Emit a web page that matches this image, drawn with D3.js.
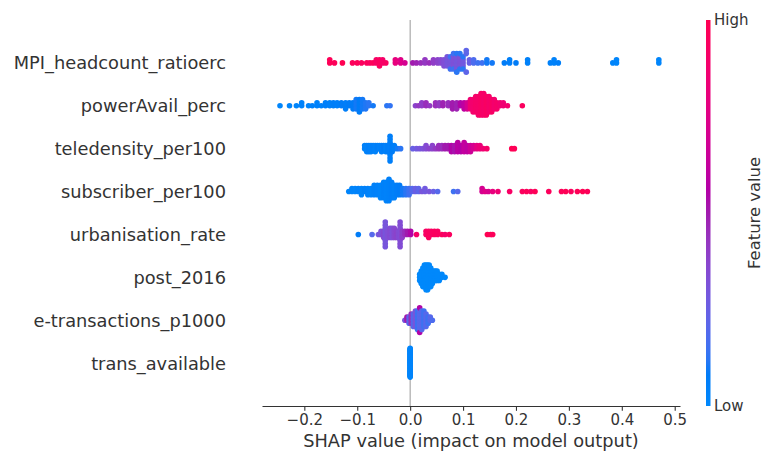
<!DOCTYPE html>
<html><head><meta charset="utf-8">
<script src="https://cdn.jsdelivr.net/npm/d3@7"></script>
<style>
body{margin:0;background:#fff}
svg{display:block}
text{font-family:"DejaVu Sans",sans-serif;fill:#333}
</style>
</head><body>
<svg id="c" width="765" height="456"></svg>
<script>
// ---------- DATA ----------
const features = ["MPI_headcount_ratioerc","powerAvail_perc","teledensity_per100","subscriber_per100",
  "urbanisation_rate","post_2016","e-transactions_p1000","trans_available"];
const xTicks = [-0.2,-0.1,0.0,0.1,0.2,0.3,0.4,0.5];
const colorbarLabels = ["Low","High"];
const xLabel = "SHAP value (impact on model output)";
const colorbarTitle = "Feature value";

// each entry: [SHAP value, number of samples, feature value (0 = low, 1 = high)]
const mpiPoints = [
 [-0.152,2,0.98],[-0.143,1,0.97],[-0.128,1,1.0],[-0.109,1,0.96],[-0.100,1,0.97],[-0.092,1,0.95],
 [-0.082,1,0.96],[-0.076,1,0.94],[-0.070,1,0.97],[-0.064,2,0.92],[-0.058,3,0.95],[-0.052,2,0.9],[-0.046,1,0.93],
 [-0.028,2,0.8],[-0.018,2,0.75],[-0.010,1,0.7],
 [0.005,1,0.5],[0.012,1,0.48],[0.020,1,0.45],[0.028,2,0.42],[0.036,1,0.45],[0.044,2,0.4],[0.052,2,0.38],[0.058,2,0.36],
 [0.064,3,0.33],[0.070,4,0.3],[0.076,3,0.3],[0.076,2,0.15],[0.082,4,0.32],[0.082,2,0.15],[0.088,5,0.3],[0.088,2,0.12],
 [0.094,4,0.32],[0.094,2,0.12],[0.100,3,0.28],[0.100,2,0.12],[0.106,3,0.22],[0.112,2,0.25],
 [0.120,2,0.18],[0.128,1,0.15],[0.136,1,0.15],[0.145,2,0.1],[0.155,1,0.1],
 [0.178,1,0.08],[0.188,2,0.06],[0.200,1,0.08],[0.222,2,0.05],
 [0.265,1,0.05],[0.272,2,0.04],[0.280,1,0.06],
 [0.383,1,0.03],[0.390,2,0.02],[0.470,2,0.02]
];
const powerPoints = [
 [-0.246,1,0.02],[-0.228,1,0.03],[-0.215,1,0.02],[-0.205,2,0.04],[-0.192,1,0.03],[-0.185,1,0.05],
 [-0.176,2,0.04],[-0.168,1,0.05],[-0.160,2,0.06],[-0.152,2,0.05],[-0.145,2,0.07],[-0.138,2,0.06],
 [-0.130,2,0.08],[-0.122,3,0.07],[-0.115,2,0.08],[-0.108,3,0.09],[-0.102,4,0.1],[-0.096,5,0.08],
 [-0.090,4,0.1],[-0.084,3,0.11],[-0.078,2,0.12],[-0.070,1,0.1],[-0.044,1,0.12],[-0.038,1,0.13],
 [0.010,1,0.38],[0.016,1,0.42],[0.022,2,0.4],[0.030,2,0.45],[0.037,1,0.42],[0.048,2,0.45],[0.055,2,0.42],
 [0.062,2,0.48],[0.072,2,0.45],[0.080,3,0.5],[0.088,3,0.48],[0.095,2,0.55],[0.102,3,0.6],[0.108,3,0.7],
 [0.114,4,0.85],[0.119,5,0.88],[0.124,6,0.9],[0.129,7,0.9],[0.134,8,0.92],[0.139,8,0.9],[0.144,7,0.93],
 [0.149,6,0.9],[0.154,5,0.92],[0.159,4,0.88],[0.164,3,0.9],[0.170,2,0.87],[0.176,2,0.85],[0.184,1,0.88],
 [0.212,1,0.95]
];
const telePoints = [
 [-0.086,2,0.05],[-0.082,3,0.04],[-0.078,3,0.06],[-0.074,3,0.05],[-0.070,2,0.06],[-0.066,3,0.04],
 [-0.062,2,0.07],[-0.058,2,0.05],[-0.054,3,0.06],[-0.050,2,0.08],[-0.046,3,0.05],[-0.042,3,0.07],
 [-0.038,9,0.06],[-0.034,3,0.08],[-0.030,2,0.07],[-0.024,1,0.1],[-0.018,1,0.12],
 [0.005,1,0.25],[0.012,1,0.28],[0.018,1,0.3],[0.024,1,0.32],[0.030,2,0.35],[0.036,1,0.38],[0.042,2,0.38],
 [0.048,1,0.42],[0.054,2,0.45],[0.060,2,0.45],[0.066,2,0.5],[0.072,2,0.5],
 [0.078,3,0.55],[0.084,3,0.52],[0.090,4,0.58],[0.096,3,0.56],[0.102,4,0.62],[0.108,3,0.6],[0.114,3,0.66],
 [0.120,2,0.7],[0.126,2,0.78],[0.132,2,0.82],[0.138,1,0.85],[0.145,1,0.9],
 [0.192,1,1.0],[0.197,1,0.98]
];
const subsPoints = [
 [-0.116,1,0.02],[-0.110,2,0.03],[-0.104,2,0.02],[-0.098,2,0.04],[-0.092,3,0.03],[-0.086,2,0.05],
 [-0.080,3,0.04],[-0.074,3,0.03],[-0.068,4,0.05],[-0.062,4,0.04],[-0.056,5,0.03],[-0.050,6,0.05],
 [-0.045,7,0.04],[-0.040,8,0.05],[-0.035,6,0.06],[-0.030,5,0.05],[-0.025,4,0.07],[-0.020,4,0.08],
 [-0.014,3,0.1],[-0.008,3,0.12],[-0.002,3,0.15],
 [0.004,2,0.2],[0.010,2,0.25],[0.016,2,0.22],[0.022,1,0.3],[0.028,2,0.28],[0.036,1,0.3],[0.044,1,0.25],[0.052,1,0.2],
 [0.082,1,0.15],[0.090,1,0.2],
 [0.136,2,0.7],[0.142,1,0.75],[0.148,1,0.72],[0.156,1,0.8],[0.166,1,0.85],[0.188,1,0.92],
 [0.212,1,0.95],[0.220,1,0.97],[0.228,1,0.93],[0.236,1,0.98],[0.262,1,0.96],
 [0.286,1,0.97],[0.294,1,0.99],[0.304,1,0.95],[0.316,1,0.98],[0.326,1,1.0],[0.335,1,0.97]
];
const urbanPoints = [
 [-0.098,1,0.08],[-0.072,1,0.2],[-0.060,1,0.3],[-0.055,2,0.32],[-0.050,3,0.35],[-0.047,9,0.3],
 [-0.043,3,0.33],[-0.038,4,0.35],[-0.034,4,0.32],[-0.030,4,0.36],[-0.026,3,0.38],[-0.022,3,0.35],
 [-0.019,9,0.34],[-0.015,3,0.4],[-0.010,2,0.45],[-0.005,2,0.5],[0.001,2,0.55],
 [0.012,1,0.9],[0.030,2,0.92],[0.035,3,0.95],[0.040,2,0.93],[0.046,2,0.95],[0.052,2,0.94],
 [0.060,1,0.96],[0.066,1,0.9],[0.074,1,0.95],
 [0.146,1,1.0],[0.152,1,0.98],[0.156,1,0.97]
];
const postPoints = [
 [0.018,3,0.0],[0.021,5,0.0],[0.024,7,0.0],[0.027,8,0.0],[0.030,9,0.0],[0.033,9,0.0],[0.036,8,0.0],
 [0.039,7,0.0],[0.042,5,0.0],[0.045,4,0.0],[0.048,4,0.0],[0.051,4,0.0],[0.055,3,0.0],[0.060,2,0.0],[0.066,1,0.0]
];
const etransPoints = [
 [-0.010,1,0.3],[-0.006,2,0.5],[-0.002,3,0.2],[0.002,4,0.45],[0.006,5,0.2],[0.010,6,0.3],[0.014,7,0.15],
 [0.018,7,0.2],[0.018,2,0.55],[0.022,7,0.2],[0.026,6,0.15],[0.030,5,0.2],[0.034,3,0.15],[0.038,2,0.2],[0.042,1,0.18]
];
const transAvailPoints = [[0.0,40,0.02]];

const rows = [mpiPoints,powerPoints,telePoints,subsPoints,urbanPoints,postPoints,etransPoints,transAvailPoints];

// ---------- LAYOUT ----------
const svg = d3.select("#c");
const plotLeft = 262, plotRight = 680, plotTop = 20, plotBottom = 406;
const x = d3.scaleLinear().domain([-0.28, 0.51]).range([plotLeft, plotRight]);
const y = d3.scaleLinear().domain([-1, features.length]).range([plotBottom, plotTop]);

function shapColor(t){
  const l = t < 0.5 ? 54 + (40 - 54) * (t / 0.5) : 40 + (54 - 40) * ((t - 0.5) / 0.5);
  const c = 70 + 20 * t;
  const h = 266.9 + (380.3 - 266.9) * t;
  return d3.hcl(h, c, l).formatHex();
}

function swarm(entries){
  const vals = [], fvs = [];
  entries.forEach(([v, n, f]) => { for (let i = 0; i < n; i++){ vals.push(v); fvs.push(f); } });
  const N = vals.length, mn = d3.min(vals), mx = d3.max(vals);
  const quant = vals.map(v => Math.round(100 * (v - mn) / (mx - mn + 1e-8)));
  const inds = d3.range(N).sort((a, b) => (quant[a] - quant[b]) || (a - b));
  const ys = new Array(N).fill(0);
  let layer = 0, last = -1;
  for (const i of inds){
    if (quant[i] !== last) layer = 0;
    ys[i] = Math.ceil(layer / 2) * ((layer % 2) * 2 - 1);
    layer++; last = quant[i];
  }
  const m = d3.max(ys) + 1;
  return vals.map((v, i) => ({v, f: fvs[i], dy: ys[i] * 0.9 * 0.4 / m}));
}

// zero line
svg.append("line").attr("x1", x(0)).attr("x2", x(0)).attr("y1", plotTop).attr("y2", plotBottom)
  .attr("stroke", "#999999").attr("stroke-width", 1);

// points
rows.forEach((entries, k) => {
  const pos = features.length - 1 - k;
  const pts = swarm(entries);
  svg.append("g").selectAll("circle").data(pts).join("circle")
    .attr("cx", d => x(d.v))
    .attr("cy", d => y(pos + d.dy))
    .attr("r", 2.8)
    .attr("fill", d => shapColor(d.f));
});

// y labels
features.forEach((name, k) => {
  const pos = features.length - 1 - k;
  svg.append("text").attr("x", 226).attr("y", y(pos)).attr("dy", "0.36em")
    .attr("text-anchor", "end").style("font-size", "17.8px").text(name);
});

// x axis
const xAxis = d3.axisBottom(x).tickValues(xTicks).tickFormat(d3.format(".1f")).tickSize(4.8).tickSizeOuter(0).tickPadding(4);
const gx = svg.append("g").attr("transform", `translate(0,${plotBottom})`).call(xAxis);
gx.select(".domain").attr("stroke", "#333").attr("stroke-width", 1.1);
gx.selectAll(".tick line").attr("stroke", "#333").attr("stroke-width", 1.1);
gx.selectAll(".tick text").attr("fill", "#333").style("font-size", "15px").style("font-family", "DejaVu Sans");

svg.append("text").attr("x", (plotLeft + plotRight) / 2).attr("y", 447).attr("text-anchor", "middle")
  .style("font-size", "17.8px").text(xLabel);

// colorbar
const defs = svg.append("defs");
const grad = defs.append("linearGradient").attr("id", "cb").attr("x1", 0).attr("y1", 1).attr("x2", 0).attr("y2", 0);
d3.range(0, 1.0001, 0.02).forEach(t => grad.append("stop").attr("offset", t).attr("stop-color", shapColor(t)));
const cbX = 706, cbW = 4.5;
svg.append("rect").attr("x", cbX).attr("y", plotTop).attr("width", cbW).attr("height", plotBottom - plotTop).attr("fill", "url(#cb)");
const cbScale = d3.scaleLinear().domain([0, 1]).range([plotBottom, plotTop]);
svg.selectAll(".cbl").data(colorbarLabels).join("text")
  .attr("x", cbX + cbW + 3.5).attr("y", (d, i) => cbScale(i)).attr("dy", "0.36em")
  .style("font-size", "15px").text(d => d);
svg.append("text").attr("transform", `translate(754,${(plotTop + plotBottom) / 2}) rotate(-90)`)
  .attr("text-anchor", "middle").attr("dy", "0.36em").style("font-size", "16.4px").text(colorbarTitle);
</script>
</body></html>
